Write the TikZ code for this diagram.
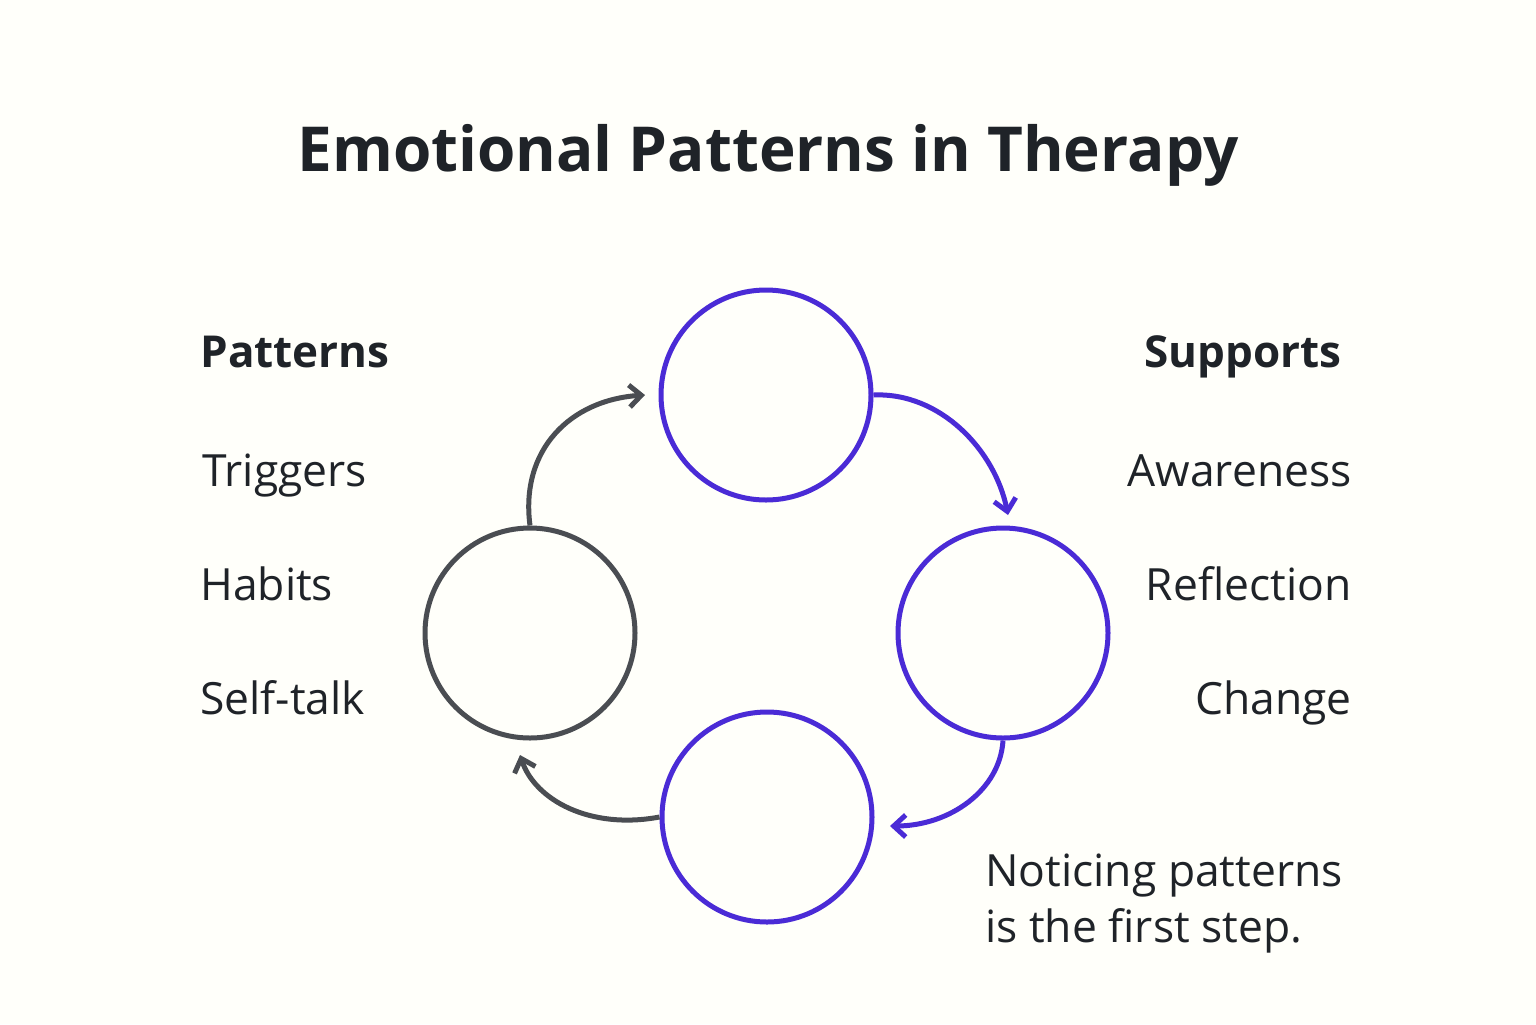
\documentclass[tikz,border=0pt]{standalone}
\usepackage{fontspec}
\setmainfont{Open Sans}
\usetikzlibrary{arrows.meta}
\definecolor{ink}{HTML}{1F2328}
\definecolor{pur}{HTML}{4A2BD6}
\definecolor{gry}{HTML}{4A4D52}
\tikzset{
  ring/.style={circle,draw=#1,line width=2.5pt,minimum size=105pt,inner sep=0pt},
  conn/.style={draw=#1,line width=2.5pt,-{Straight Barb[length=6pt,width=11pt,line width=2.5pt]}},
  lbl/.style={font=\fontsize{22.2}{26}\selectfont,text=ink,inner sep=0pt},
  hd/.style={font=\fontsize{22}{26}\selectfont\bfseries,text=ink,inner sep=0pt}
}
\begin{document}
\begin{tikzpicture}[x=0.5pt,y=-0.5pt]
\fill[white!98!yellow] (0,0) rectangle (1536,1024);
\useasboundingbox (0,0) rectangle (1536,1024);
\node[font=\fontsize{31}{36}\selectfont\bfseries,text=ink] (title) at (768,155) {Emotional Patterns in Therapy};
\node[ring=pur] (top) at (766,395) {};
\node[ring=pur] (right) at (1003,633) {};
\node[ring=pur] (bot) at (767,817) {};
\node[ring=gry] (left) at (530,633) {};
\coordinate (a2) at (645,395);
\draw[conn=gry] (left.north) .. controls (520,450) and (570,400) .. (a2);
\draw[conn=pur] (top.east) .. controls (940,392) and (995,450) .. (1008,515);
\draw[conn=pur] (right.south) .. controls (1000,790) and (950,826) .. (890,826);
\draw[conn=gry] (bot.west) .. controls (590,830) and (535,800) .. (520,755);
\node[hd,anchor=base west] (p) at (200,367) {Patterns};
\node[lbl,anchor=base west] (t) at (202,486) {Triggers};
\node[lbl,anchor=base west] (h) at (200,600) {Habits};
\node[lbl,anchor=base west] (s) at (200,714) {Self-talk};
\node[hd,anchor=base east] (su) at (1342,367) {Supports};
\node[lbl,anchor=base east] (aw) at (1352,486) {Awareness};
\node[lbl,anchor=base east] (re) at (1352,600) {Reflection};
\node[lbl,anchor=base east] (ch) at (1352,714) {Change};
\node[lbl,anchor=base west] (n1) at (985,886) {Noticing patterns};
\node[lbl,anchor=base west] (n2) at (985,942) {is the first step.};
\end{tikzpicture}
\end{document}
